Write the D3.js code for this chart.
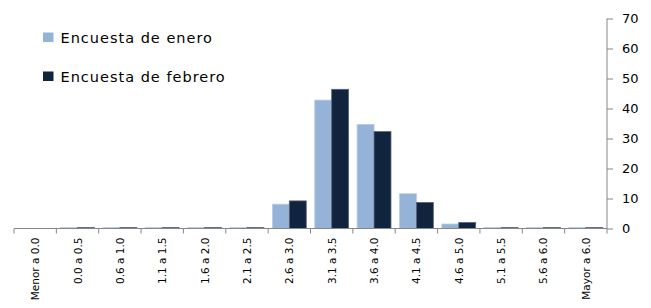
<!DOCTYPE html>
<html>
    <head>
        <meta charset="utf-8"/>
        <script src="https://cdnjs.cloudflare.com/ajax/libs/d3/7.8.5/d3.min.js"></script>
        <style>
            body { margin: 0; background: #fff; }
        </style>
    </head>
    <body>
        <script>
            // datos
            const categories = ["Menor a 0.0", "0.0 a 0.5", "0.6 a 1.0", "1.1 a 1.5", "1.6 a 2.0", "2.1 a 2.5",
                "2.6 a 3.0", "3.1 a 3.5", "3.6 a 4.0", "4.1 a 4.5", "4.6 a 5.0", "5.1 a 5.5", "5.6 a 6.0", "Mayor a 6.0"];
            const seriesNames = ["Encuesta de enero", "Encuesta de febrero"];
            const enero = [0, 0.3, 0.3, 0.3, 0.3, 0.3, 8.1, 42.8, 34.7, 11.6, 1.5, 0.3, 0.3, 0.3];
            const febrero = [0, 0.3, 0.3, 0.3, 0.3, 0.3, 9.2, 46.4, 32.3, 8.7, 2.0, 0.3, 0.3, 0.3];
            const yTicks = [0, 10, 20, 30, 40, 50, 60, 70];

            const colors = ["#95b3d7", "#10243e"];
            const strokes = ["#b8cce4", "#59647a"];

            const width = 651, height = 308;
            const x0 = 14, x1 = 607, yBase = 228.5, yTop = 18.5;

            const svg = d3.select("body").append("svg")
                .attr("width", width)
                .attr("height", height)
                .attr("font-family", "DejaVu Sans, sans-serif");

            const x = d3.scaleBand().domain(categories).range([x0, x1]).padding(0);
            const xs = d3.scaleBand().domain(seriesNames)
                .range([x.bandwidth() * 0.1, x.bandwidth() * 0.9]).padding(0);
            const y = d3.scaleLinear().domain([0, 70]).range([yBase, yTop]);

            const rows = categories.map((c, i) => ({cat: c, vals: [enero[i], febrero[i]]}));

            // barras
            svg.append("g")
                .selectAll("g")
                .data(rows)
                .join("g")
                .attr("transform", d => `translate(${x(d.cat)},0)`)
                .selectAll("rect")
                .data(d => d.vals.map((v, k) => ({v, k})))
                .join("rect")
                .filter(d => d.v > 0)
                .attr("x", d => xs(seriesNames[d.k]))
                .attr("width", xs.bandwidth())
                .attr("y", d => y(d.v))
                .attr("height", d => yBase - y(d.v))
                .attr("fill", d => colors[d.k])
                .attr("stroke", d => strokes[d.k])
                .attr("stroke-width", 0.8);

            // eje x
            const xAxis = svg.append("g").attr("transform", `translate(0,${yBase})`);
            xAxis.append("line")
                .attr("x1", x0).attr("x2", x1)
                .attr("stroke", "#868686");
            xAxis.selectAll("line.tick")
                .data(categories.concat([null]))
                .join("line")
                .attr("class", "tick")
                .attr("x1", (d, i) => x0 + i * x.step())
                .attr("x2", (d, i) => x0 + i * x.step())
                .attr("y1", 0).attr("y2", 5)
                .attr("stroke", "#868686");
            xAxis.selectAll("text")
                .data(categories)
                .join("text")
                .attr("transform", d => `translate(${x(d) + x.bandwidth() / 2 + 4},9) rotate(-90)`)
                .attr("text-anchor", "end")
                .attr("font-size", 10.5)
                .attr("fill", "#000")
                .text(d => d);

            // eje y (derecha)
            const yAxis = svg.append("g")
                .attr("transform", `translate(${x1},0)`)
                .call(d3.axisRight(y).tickValues(yTicks).tickSize(6).tickPadding(9));
            yAxis.select(".domain").attr("stroke", "#868686").attr("d", `M0,${yTop}V${yBase}`);
            yAxis.selectAll(".tick line").attr("stroke", "#868686");
            yAxis.selectAll(".tick text")
                .attr("font-size", 13)
                .attr("font-family", "DejaVu Sans, sans-serif")
                .attr("fill", "#000");

            // leyenda
            const legend = svg.append("g")
                .selectAll("g")
                .data(seriesNames)
                .join("g")
                .attr("transform", (d, i) => `translate(43,${32.5 + i * 39})`);
            legend.append("rect")
                .attr("width", 10.5).attr("height", 9.5)
                .attr("fill", (d, i) => colors[i]);
            legend.append("text")
                .attr("x", 17.5).attr("y", 10.8)
                .attr("font-size", 14.5)
                .attr("letter-spacing", 1)
                .attr("fill", "#000")
                .text(d => d);
        </script>
    </body>
</html>
